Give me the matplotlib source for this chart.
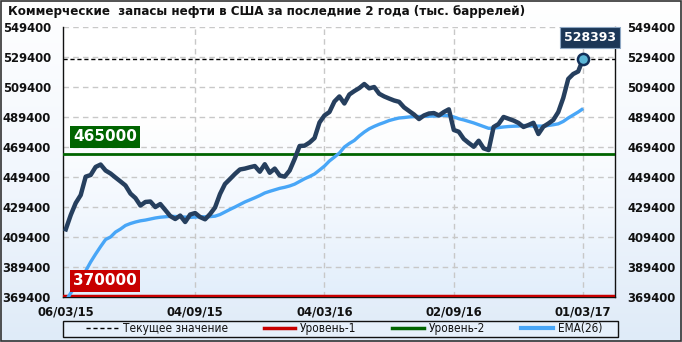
import numpy as np
import matplotlib
matplotlib.use("Agg")
import matplotlib.pyplot as plt
from matplotlib.lines import Line2D
from matplotlib.colors import LinearSegmentedColormap

# weekly commercial crude stocks, thousand barrels
stocks = [414400, 424000, 432000, 437300, 449600, 450700, 456100, 457700, 453700, 451700,
          449000, 446400, 443700, 438300, 435300, 430300, 432700, 433000, 429300, 431300,
          427300, 423300, 421300, 423600, 419300, 424300, 425300, 422600, 421100, 424600,
          429000, 438000, 444700, 448000, 451400, 454400, 455000, 455900, 456700, 452900,
          457900, 452200, 455000, 450400, 449600, 453700, 461400, 470100, 470300, 472400,
          475400, 485800, 490500, 492800, 499800, 503200, 498500, 504500, 506800, 508800,
          511500, 508600, 509500, 505000, 503200, 501800, 500500, 499600, 495900, 493500,
          491100, 488100, 490500, 491800, 492100, 490500, 492800, 494600, 480800, 479600,
          474800, 472100, 469600, 473600, 468500, 467400, 482800, 484800, 489500, 488300,
          487100, 485500, 482800, 484100, 485600, 478100, 483000, 485100, 487500, 492800,
          502200, 514900, 518200, 519900, 528393]

ema26 = [366500, 371900, 376700, 381700, 386600, 392600, 397900, 402900, 407600, 409300,
         412600, 414600, 417000, 418300, 419300, 420100, 420600, 421300, 422000, 422500,
         422800, 423100, 423000, 422800, 422600, 422400, 422600, 422800, 422800, 422900,
         423200, 424300, 426000, 427700, 429300, 431000, 432700, 434100, 435500, 437000,
         438700, 439800, 440800, 441800, 442500, 443400, 444600, 446400, 448200, 449700,
         451400, 454000, 456700, 460100, 462700, 465400, 469400, 471800, 473800, 476800,
         479400, 481600, 483200, 484600, 485800, 487100, 488000, 488800, 489100, 489500,
         489700, 489800, 489900, 490000, 490100, 490300, 490600, 490300, 489500, 488300,
         487500, 486500, 485500, 484300, 483100, 481900, 482100, 482400, 482800, 483100,
         483300, 483400, 483800, 483600, 483400, 483400, 483400, 483800, 484300, 484900,
         486500, 488800, 490800, 492800, 495100]

level1 = 370000
level2 = 465000
date_labels = ["06/03/15", "04/09/15", "04/03/16", "02/09/16", "01/03/17"]
date_pos = [0, 26, 52, 78, 104]
y_ticks = list(range(369400, 549401, 20000))

title = "Коммерческие  запасы нефти в США за последние 2 года (тыс. баррелей)"

DARK = "#263f5e"
BLUE = "#48a6f7"
GREEN = "#006400"
RED = "#c80000"

plt.rcParams["font.family"] = ["DejaVu Sans"]

fig = plt.figure(figsize=(6.82, 3.42), dpi=100)

# figure background gradient + border
bg = fig.add_axes([0, 0, 1, 1], zorder=-10)
grad = np.linspace(0, 1, 256).reshape(-1, 1)
bg.imshow(grad, aspect="auto", extent=[0, 1, 0, 1], origin="lower",
          cmap=LinearSegmentedColormap.from_list("bgc", ["#dfebf8", "#f2f7fd", "#ffffff"]))
bg.set_xlim(0, 1)
bg.set_ylim(0, 1)
bg.axis("off")
bg.add_patch(plt.Rectangle((0.001, 0.002), 0.997, 0.995, fill=False, ec="#333333", lw=1.2,
                           transform=bg.transAxes))
# legend frame
bg.add_patch(plt.Rectangle((63.3 / 682, 1 - 336.7 / 342), (618 - 63.3) / 682, 16 / 342,
                           fc="#e6f0fb", ec="#111111", lw=1, transform=bg.transAxes))

fig.text(8 / 682, 1 - 12 / 342, title, fontsize=9.5, fontweight="bold", color="#111111",
         ha="left", va="center", fontstretch="condensed")

ax = fig.add_axes([63.3 / 682, 1 - 296.7 / 342, (615 - 63.3) / 682, (296.7 - 27.3) / 342])
x = np.arange(len(stocks))
ax.set_xlim(-0.5, 110.4)
ax.set_ylim(369400, 549400)

# plot area gradient
pcm = LinearSegmentedColormap.from_list("pa", ["#e2eefb", "#f3f8fe", "#ffffff", "#ffffff"])
ax.imshow(grad, aspect="auto", extent=[-0.5, 110.4, 369400, 549400], cmap=pcm,
          origin="lower", zorder=0)

ax.set_yticks(y_ticks)
ax.set_xticks(date_pos)
ax.set_xticklabels(date_labels)
ax.grid(True, color="#c8c8c8", linestyle=(0, (4, 3)), linewidth=1, zorder=1)
ax.get_xgridlines()[0].set_visible(False)
ax.tick_params(length=0, labelsize=8.4, labelcolor="#111111",
               labelleft=True, labelright=True)
for lab in ax.get_xticklabels() + ax.get_yticklabels():
    lab.set_fontweight("bold")
ax.tick_params(axis="y", pad=9)
ax.tick_params(axis="x", pad=6)
for s in ax.spines.values():
    s.set_color("#111111")
    s.set_linewidth(1)
ax.spines["top"].set_visible(False)

ax.axhline(stocks[-1], color="black", linestyle=(0, (3, 2)), lw=1, zorder=2)
ax.axhline(level2, color=GREEN, lw=2, zorder=3)
ax.axhline(level1, color=RED, lw=2.5, zorder=3)
ax.plot(x, ema26, color=BLUE, lw=2.4, zorder=4, solid_capstyle="butt")
ax.plot(x, stocks, color=DARK, lw=3.2, zorder=5, solid_joinstyle="round")
ax.plot(x[-1], stocks[-1], "o", ms=8, mfc="#5cb6d6", mec="#12305a", mew=1.8, zorder=6)

ax.text(7.9, 476300, f"{level2}", color="white", fontsize=11, fontweight="bold",
        ha="center", va="center", zorder=7,
        bbox=dict(boxstyle="square,pad=0.22", fc=GREEN, ec="none"))
ax.text(7.9, 379900, f"{level1}", color="white", fontsize=11, fontweight="bold",
        ha="center", va="center", zorder=7,
        bbox=dict(boxstyle="square,pad=0.22", fc=RED, ec="none"))
ax.text(105.3, 542700, f"{stocks[-1]}", color="white", fontsize=9, fontweight="bold",
        ha="center", va="center", zorder=7, clip_on=False,
        bbox=dict(boxstyle="square,pad=0.32", fc="#1c3757", ec="#8fa8c4", lw=0.8))

handles = [Line2D([], [], color="black", linestyle=(0, (3, 2)), lw=1),
           Line2D([], [], color=RED, lw=2.5),
           Line2D([], [], color=GREEN, lw=2.5),
           Line2D([], [], color=BLUE, lw=3)]
labels = ["Текущее значение", "Уровень-1", "Уровень-2", "EMA(26)"]
leg = fig.legend(handles, labels, ncol=4, loc="center left",
                 bbox_to_anchor=(86 / 682, 1 - 336.7 / 342, (602 - 86) / 682, 16 / 342),
                 mode="expand", frameon=False, borderaxespad=0, borderpad=0,
                 prop=dict(size=8.5, stretch="condensed"),
                 handlelength=2.7, handletextpad=0.4, columnspacing=1.0)
for t in leg.get_texts():
    t.set_color("#111111")

fig.savefig("out.png", dpi=100)
